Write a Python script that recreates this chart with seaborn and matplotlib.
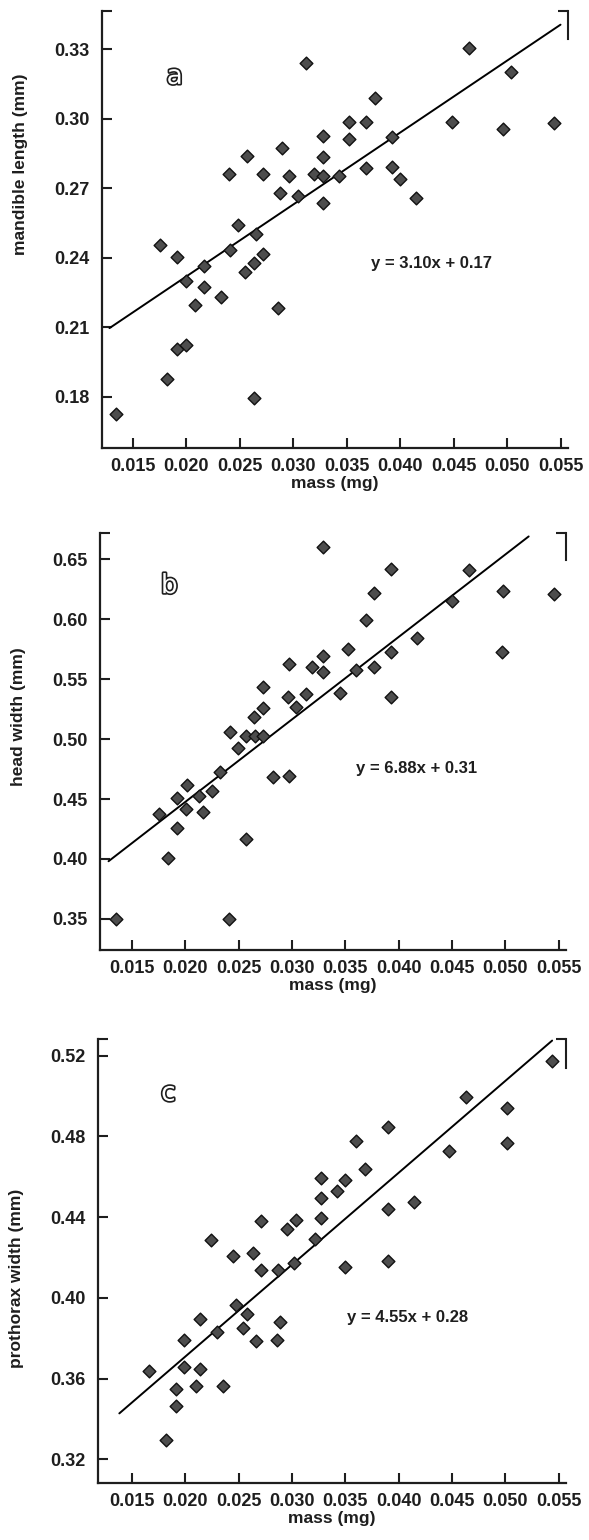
import matplotlib
matplotlib.use("Agg")
import matplotlib.pyplot as plt
import matplotlib.patheffects as pe
import seaborn as sns
import pandas as pd

# --- panel a: mandible length vs mass ---
mass_a = [0.0312, 0.0328, 0.0289, 0.0257, 0.0328, 0.0240, 0.0272, 0.0296, 0.0319, 0.0328,
          0.0343, 0.0288, 0.0304, 0.0328, 0.0248, 0.0265, 0.0175, 0.0241, 0.0464, 0.0504,
          0.0376, 0.0352, 0.0368, 0.0448, 0.0496, 0.0544, 0.0352, 0.0392, 0.0368, 0.0392,
          0.0400, 0.0415, 0.0191, 0.0216, 0.0200, 0.0255, 0.0263, 0.0272, 0.0216, 0.0232,
          0.0208, 0.0286, 0.0191, 0.0200, 0.0182, 0.0263, 0.0134]
mandible = [0.3238, 0.2925, 0.2875, 0.2840, 0.2836, 0.2760, 0.2760, 0.2753, 0.2760, 0.2754,
            0.2753, 0.2680, 0.2666, 0.2638, 0.2541, 0.2501, 0.2455, 0.2434, 0.3303, 0.3202,
            0.3088, 0.2984, 0.2987, 0.2987, 0.2954, 0.2980, 0.2911, 0.2920, 0.2786, 0.2793,
            0.2738, 0.2656, 0.2402, 0.2366, 0.2301, 0.2340, 0.2376, 0.2415, 0.2275, 0.2230,
            0.2197, 0.2183, 0.2005, 0.2022, 0.1878, 0.1794, 0.1727]

# --- panel b: head width vs mass ---
mass_b = [0.0329, 0.0297, 0.0319, 0.0329, 0.0329, 0.0273, 0.0296, 0.0313, 0.0304, 0.0273,
          0.0264, 0.0345, 0.0393, 0.0466, 0.0377, 0.0498, 0.0546, 0.0369, 0.0450, 0.0417,
          0.0353, 0.0393, 0.0360, 0.0377, 0.0393, 0.0497, 0.0242, 0.0249, 0.0257, 0.0265,
          0.0273, 0.0233, 0.0282, 0.0297, 0.0202, 0.0192, 0.0213, 0.0225, 0.0175, 0.0201,
          0.0217, 0.0192, 0.0257, 0.0184, 0.0135, 0.0241]
head = [0.660, 0.5627, 0.5604, 0.5696, 0.5558, 0.5437, 0.5354, 0.5377, 0.5266, 0.5257,
        0.5182, 0.5387, 0.6419, 0.6411, 0.6216, 0.6236, 0.6211, 0.5994, 0.6155, 0.5841,
        0.5752, 0.5729, 0.5577, 0.5599, 0.5354, 0.5724, 0.5062, 0.4929, 0.5029, 0.5029,
        0.5029, 0.4724, 0.4682, 0.4693, 0.4618, 0.4507, 0.4526, 0.4570, 0.4376, 0.4415,
        0.4395, 0.4257, 0.4167, 0.4011, 0.3498, 0.3498]

# --- panel c: prothorax width vs mass ---
mass_c = [0.0544, 0.0463, 0.0502, 0.0502, 0.0390, 0.0447, 0.0360, 0.0368, 0.0327, 0.0350,
          0.0342, 0.0327, 0.0327, 0.0322, 0.0390, 0.0414, 0.0390, 0.0350, 0.0271, 0.0295,
          0.0304, 0.0224, 0.0245, 0.0263, 0.0271, 0.0287, 0.0302, 0.0247, 0.0258, 0.0214,
          0.0289, 0.0230, 0.0254, 0.0199, 0.0266, 0.0286, 0.0166, 0.0199, 0.0214, 0.0191,
          0.0210, 0.0235, 0.0191, 0.0182]
prothorax = [0.5172, 0.4998, 0.4941, 0.4767, 0.4849, 0.4730, 0.4778, 0.4639, 0.4593, 0.4585,
             0.4530, 0.4497, 0.4398, 0.4291, 0.4439, 0.4477, 0.4184, 0.4152, 0.4383, 0.4340,
             0.4386, 0.4287, 0.4208, 0.4221, 0.4139, 0.4136, 0.4175, 0.3965, 0.3920, 0.3894,
             0.3882, 0.3832, 0.3849, 0.3790, 0.3787, 0.3790, 0.3636, 0.3657, 0.3646, 0.3550,
             0.3566, 0.3563, 0.3467, 0.3294]

# regression fits (slope, intercept) and the x span the line covers
slopes = [3.10, 6.88, 4.55]
intercepts = [0.17, 0.31, 0.28]
line_spans = [(0.0128, 0.0550), (0.0128, 0.0522), (0.0138, 0.0544)]

letters = ['a', 'b', 'c']
ylabels = ['mandible length (mm)', 'head width (mm)', 'prothorax width (mm)']
x_ticks = [0.015, 0.020, 0.025, 0.030, 0.035, 0.040, 0.045, 0.050, 0.055]
y_ticks = [[0.18, 0.21, 0.24, 0.27, 0.30, 0.33],
           [0.35, 0.40, 0.45, 0.50, 0.55, 0.60, 0.65],
           [0.32, 0.36, 0.40, 0.44, 0.48, 0.52]]
x_lims = [(0.0121, 0.0557), (0.0120, 0.0557), (0.0118, 0.0557)]
y_lims = [(0.158, 0.3464), (0.324, 0.672), (0.3083, 0.5283)]

sns.set_theme(style='ticks')
plt.rcParams['font.family'] = ['Liberation Sans', 'DejaVu Sans']
plt.rcParams['font.weight'] = 'bold'

W, H = 589, 1540
fig = plt.figure(figsize=(W / 100, H / 100), dpi=100)
fig.patch.set_facecolor('white')

# axes boxes in pixels: left, top, right, bottom
boxes = [(102, 11, 568, 448), (100, 533, 566, 950), (98, 1039, 566, 1483)]
# panel letter and equation placement (data coords), y-label height (axes frac)
letter_pos = [(0.0189, 0.3180), (0.0185, 0.6277), (0.0184, 0.5012)]
eq_pos = [(0.0429, 0.2376), (0.0417, 0.4757), (0.0408, 0.3904)]
ylabel_y = [0.65, 0.56, 0.46]

data = [(mass_a, mandible), (mass_b, head), (mass_c, prothorax)]
ink = '#1e1e1e'

for i, (xs, ys) in enumerate(data):
    l, t, r, b = boxes[i]
    ax = fig.add_axes([l / W, 1 - b / H, (r - l) / W, (b - t) / H])
    df = pd.DataFrame({'mass': xs, 'y': ys})
    sns.scatterplot(data=df, x='mass', y='y', ax=ax, marker='D', s=42,
                    color='#4d4d4d', edgecolor='#111111', linewidth=1.0, zorder=3)
    x0, x1 = line_spans[i]
    line = pd.DataFrame({'mass': [x0, x1],
                         'y': [slopes[i] * x0 + intercepts[i], slopes[i] * x1 + intercepts[i]]})
    sns.lineplot(data=line, x='mass', y='y', ax=ax, color='black', linewidth=1.4, zorder=2)

    ylo, yhi = y_lims[i]
    ax.set_xlim(*x_lims[i])
    ax.set_ylim(ylo, yhi)
    ax.set_xticks(x_ticks)
    ax.set_xticklabels([f'{v:.3f}' for v in x_ticks])
    ax.set_yticks(y_ticks[i])
    ax.set_yticklabels([f'{v:.2f}' for v in y_ticks[i]])
    # little caps at the top of the frame, left and right
    ax.set_yticks([yhi], minor=True)
    ax.tick_params(axis='both', which='both', direction='in', length=7, width=1.5,
                   color=ink, labelsize=13, labelcolor=ink)
    ax.tick_params(axis='y', which='minor', left=True, right=True, length=7)
    ax.tick_params(axis='y', pad=9)
    ax.tick_params(axis='x', pad=7)
    ax.spines['top'].set_visible(False)
    ax.spines['right'].set_bounds(yhi - 0.065 * (yhi - ylo), yhi)
    ax.spines['right'].set_linewidth(1.5)
    ax.spines['right'].set_color(ink)
    for sp in ['left', 'bottom']:
        ax.spines[sp].set_linewidth(1.6)
        ax.spines[sp].set_color(ink)
    ax.set_xlabel('mass (mg)', fontsize=12.5, fontweight='bold', color=ink, labelpad=1)
    ax.set_ylabel(ylabels[i], fontsize=12.5, fontweight='bold', color=ink)
    ax.yaxis.set_label_coords(-0.158, ylabel_y[i])
    ax.set_facecolor('white')
    ax.grid(False)

    txt = ax.text(*letter_pos[i], letters[i], fontsize=19, fontweight='normal',
                  family='DejaVu Sans', color='white', ha='center', va='center')
    txt.set_path_effects([pe.withStroke(linewidth=2.4, foreground=ink)])
    ax.text(*eq_pos[i], f'y = {slopes[i]:.2f}x + {intercepts[i]:.2f}', fontsize=12,
            fontweight='bold', color=ink, ha='center', va='center')

fig.savefig('out.png', dpi=100, facecolor='white')
